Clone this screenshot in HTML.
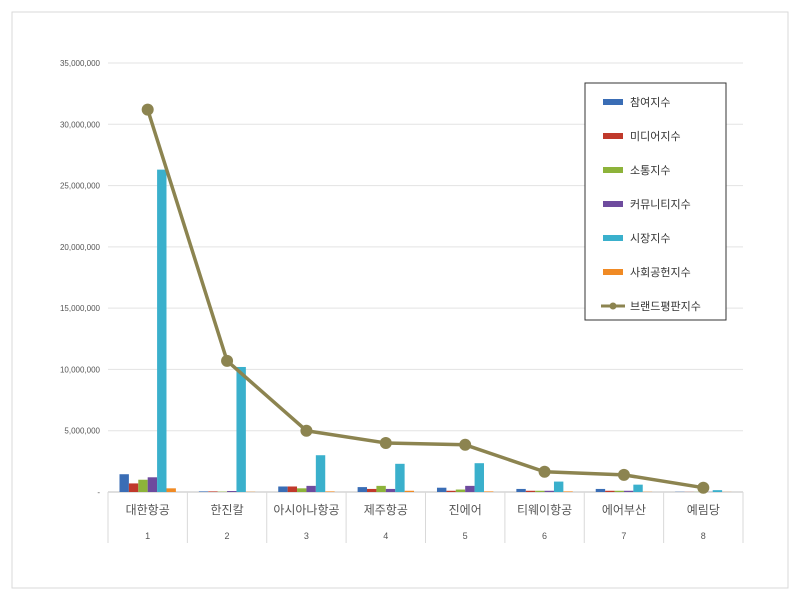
<!DOCTYPE html>
<html><head><meta charset="utf-8"><style>
body{margin:0;background:#fff;font-family:"Liberation Sans","Noto Sans CJK KR",sans-serif}
</style></head><body>
<svg width="800" height="597" xmlns="http://www.w3.org/2000/svg" font-family="Liberation Sans, Noto Sans CJK KR, sans-serif">
<rect x="12" y="12" width="776" height="576" fill="#fff" stroke="#d9d9d9"/>
<g id="grid"></g><g id="axis"></g><g id="bars"></g><g id="line"></g>
<g>
<rect x="585" y="83" width="141" height="237" fill="#fff" stroke="#333" stroke-width="1"/>
<g id="legend"></g>
</g>
</svg>
<script>
const categories=["대한항공","한진칼","아시아나항공","제주항공","진에어","티웨이항공","에어부산","예림당"];
const seriesNames=["참여지수","미디어지수","소통지수","커뮤니티지수","시장지수","사회공헌지수"];
const s1=[1.45,0.05,0.45,0.4,0.35,0.25,0.25,0.02];
const s2=[0.7,0.05,0.45,0.25,0.1,0.1,0.1,0.01];
const s3=[1.0,0.03,0.3,0.5,0.2,0.1,0.1,0.01];
const s4=[1.2,0.08,0.5,0.25,0.5,0.1,0.1,0.01];
const s5=[26.3,10.2,3.0,2.3,2.35,0.85,0.6,0.15];
const s6=[0.3,0.02,0.05,0.1,0.05,0.05,0.02,0.01];
const brand=[31.2,10.7,5.0,4.0,3.85,1.65,1.4,0.35];
const yTicks=["-","5,000,000","10,000,000","15,000,000","20,000,000","25,000,000","30,000,000","35,000,000"];
const colors=["#3a6db5","#c0392b","#8db33a","#6e4b9e","#3ab0cc","#f08a24"];
const NS="http://www.w3.org/2000/svg";
const x0=108,x1=743,y0=492,yTop=63,ymax=35;
const cw=(x1-x0)/categories.length;
const Y=v=>y0-(v/ymax)*(y0-yTop);
const CX=i=>x0+cw*(i+0.5);
function mk(t,a,p){const e=document.createElementNS(NS,t);for(const k in a)e.setAttribute(k,a[k]);p.appendChild(e);return e;}
const grid=document.getElementById('grid'),axis=document.getElementById('axis');
yTicks.forEach((t,i)=>{const y=Y(i*5);
 const l=mk('line',{x1:x0,x2:x1,y1:y,y2:y,stroke:i==0?'#bfbfbf':'#e3e3e3'},grid);
 
 
 const tx=mk('text',{x:100,y:y+3,'text-anchor':'end','font-size':'8',fill:'#555'},axis);tx.textContent=t;
 
 
});
for(let i=0;i<=categories.length;i++){const x=x0+cw*i;
 const l=mk('line',{x1:x,x2:x,y1:y0,y2:543,stroke:'#d9d9d9'},axis);
 
 }
categories.forEach((c,i)=>{
 const t=mk('text',{x:CX(i),y:514,'text-anchor':'middle','font-size':'12',fill:'#555'},axis);t.textContent=c;
 
 
 const n=mk('text',{x:CX(i),y:539,'text-anchor':'middle','font-size':'9',fill:'#555'},axis);n.textContent=String(i+1);
 
 
});
const series=[s1,s2,s3,s4,s5,s6];const bars=document.getElementById('bars');
const bw=9.4;
series.forEach((s,k)=>s.forEach((v,i)=>{const x=CX(i)-3*bw+k*bw;
 const r=mk('rect',{x:x,y:Y(v),width:bw,height:y0-Y(v),fill:colors[k]},bars);
 
 }));
const lg=document.getElementById('line');
const pts=brand.map((v,i)=>CX(i)+','+Y(v)).join(' ');
const pl=mk('polyline',{points:pts,fill:'none',stroke:'#8c8450','stroke-width':'3.5','stroke-linejoin':'round'},lg);


brand.forEach((v,i)=>{const c=mk('circle',{cx:CX(i),cy:Y(v),r:6,fill:'#8c8450'},lg);
 
 });
const leg=document.getElementById('legend');
const names=seriesNames.concat(["브랜드평판지수"]);
names.forEach((n,i)=>{const y=102+i*34;
 if(i<6){const r=mk('rect',{x:603,y:y-3,width:20,height:6,fill:colors[i]},leg);
  
  }
 else{mk('line',{x1:601,x2:625,y1:y,y2:y,stroke:'#8c8450','stroke-width':'3'},leg);
  const c=mk('circle',{cx:613,cy:y,r:3.5,fill:'#8c8450'},leg);
  
  }
 const t=mk('text',{x:630,y:y+4,'font-size':'11',fill:'#333'},leg);t.textContent=n;
 
 
});
</script>
</body></html>
